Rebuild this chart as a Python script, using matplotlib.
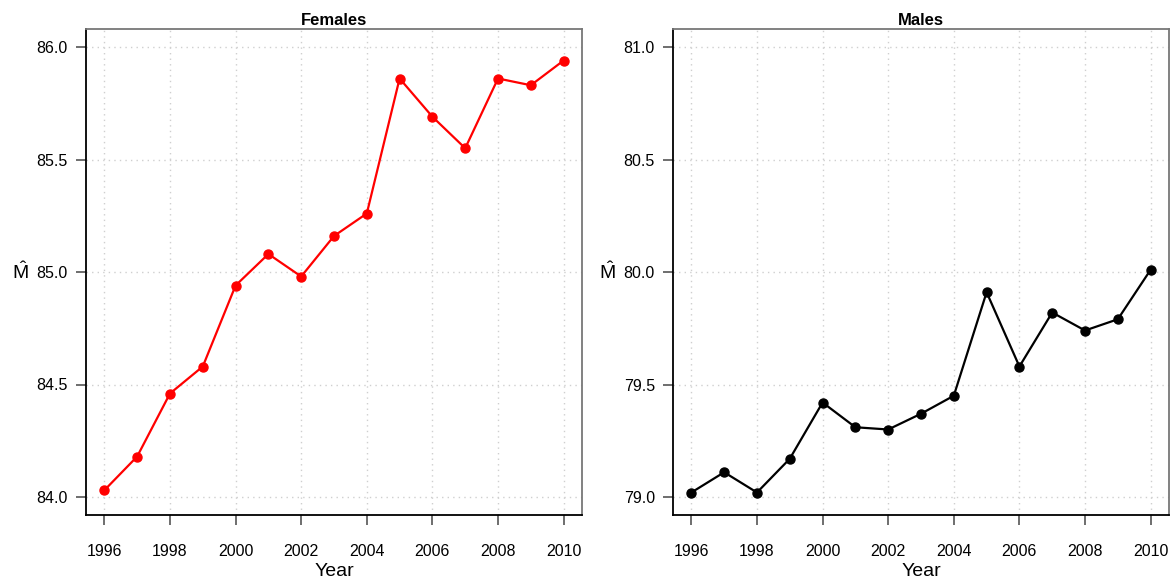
import matplotlib
matplotlib.use("Agg")
import matplotlib.pyplot as plt

plt.rcParams["font.family"] = ["Liberation Sans", "DejaVu Sans"]
plt.rcParams["mathtext.fontset"] = "custom"
plt.rcParams["mathtext.rm"] = "Liberation Sans"

years = list(range(1996, 2011))
females = [84.03, 84.18, 84.46, 84.58, 84.94, 85.08, 84.98, 85.16, 85.26,
           85.86, 85.69, 85.55, 85.86, 85.83, 85.94]
males = [79.02, 79.11, 79.02, 79.17, 79.42, 79.31, 79.30, 79.37, 79.45,
         79.91, 79.58, 79.82, 79.74, 79.79, 80.01]
panels = [("Females", females, "red", (84.0, 86.0)),
          ("Males", males, "black", (79.0, 81.0))]
xticks = list(range(1996, 2011, 2))

W, H = 1175, 583
fig = plt.figure(figsize=(W / 100, H / 100), dpi=100)
lefts = [86, 673]
for left, (title, vals, col, (lo, hi)) in zip(lefts, panels):
    ax = fig.add_axes([left / W, (H - 515) / H, 496 / W, 486 / H])
    pad = 0.04 * (hi - lo)
    ax.set_ylim(lo - pad, hi + pad)
    xpad = 0.04 * (years[-1] - years[0])
    ax.set_xlim(years[0] - xpad, years[-1] + xpad)
    ax.grid(True, ls=(0, (1, 3)), color="#cfcfcf", lw=1.0)
    ax.set_axisbelow(True)
    ax.plot(years, vals, color=col, lw=1.6, marker="o", ms=6.5, zorder=3)
    ax.set_xticks(xticks)
    ax.set_yticks([lo + 0.5 * i for i in range(5)])
    ax.set_yticklabels([f"{lo + 0.5 * i:.1f}" for i in range(5)])
    ax.tick_params(direction="out", length=7, width=1.2, color="#555555",
                   labelsize=11.5, pad=6)
    ax.tick_params(axis="x", pad=14)
    for s in ["top", "right"]:
        ax.spines[s].set_color("#777777")
    for s in ax.spines.values():
        s.set_linewidth(1.3)
    ax.set_title(title, fontsize=12, fontweight="bold", pad=3)
    ax.set_xlabel("Year", fontsize=14, labelpad=3)
    ax.set_ylabel(r"$\hat{\mathrm{M}}$", fontsize=14, rotation=0,
                  labelpad=12, va="center")

fig.savefig("out.png", dpi=100)
